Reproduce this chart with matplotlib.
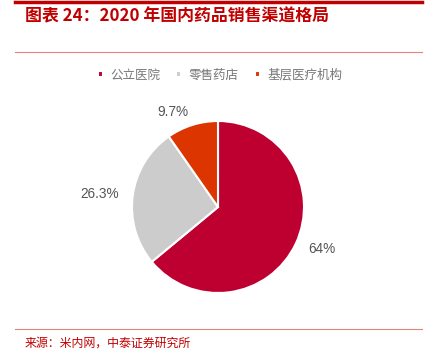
import matplotlib.pyplot as plt

plt.rcParams['font.family'] = ['Noto Sans CJK SC', 'DejaVu Sans']

渠道 = ['公立医院', '零售药店', '基层医疗机构']
占比 = [64, 26.3, 9.7]
标签 = ['64%', '26.3%', '9.7%']
颜色 = ['#BE0030', '#CCCCCC', '#DD3500']

fig = plt.figure(figsize=(4.26, 3.53), dpi=100)

# 饼图
ax = fig.add_axes([(218 - 86) / 426, 1 - (207 + 86) / 353, 172 / 426, 172 / 353])
wedges, texts = ax.pie(占比, labels=标签, colors=颜色, startangle=90, counterclock=False,
                       labeldistance=1.16,
                       wedgeprops=dict(edgecolor='white', linewidth=1.5),
                       textprops=dict(color='#555555', fontsize=9.8, family=['Liberation Sans', 'DejaVu Sans']))
ax.set_xlim(-1, 1)
ax.set_ylim(-1, 1)
ax.set_aspect('equal')

# 图例
fig.legend(wedges, 渠道, loc='center', bbox_to_anchor=(220 / 426, 1 - 75 / 353), ncol=3, frameon=False,
           handlelength=0.4, handleheight=0.4, handletextpad=0.6, columnspacing=1.3,
           prop={'size': 9}, labelcolor='#777777')

# 标题和横线
fig.add_artist(plt.Line2D([15 / 426, 422 / 426], [1 - 1.5 / 353] * 2, color='#C00000', lw=2.5))
fig.text(25 / 426, 1 - 16 / 353, '图表 24：2020 年国内药品销售渠道格局', color='#C00000',
         fontsize=12.2, fontweight='bold', style='italic', va='center')
fig.add_artist(plt.Line2D([15 / 426, 422 / 426], [1 - 52 / 353] * 2, color='#E88080', lw=0.8))
fig.add_artist(plt.Line2D([15 / 426, 422 / 426], [1 - 329 / 353] * 2, color='#E88080', lw=0.8))
fig.text(25 / 426, 1 - 343 / 353, '来源：米内网，中泰证券研究所', color='#C00000', fontsize=8.6, va='center')

fig.savefig('out.png', dpi=100)
